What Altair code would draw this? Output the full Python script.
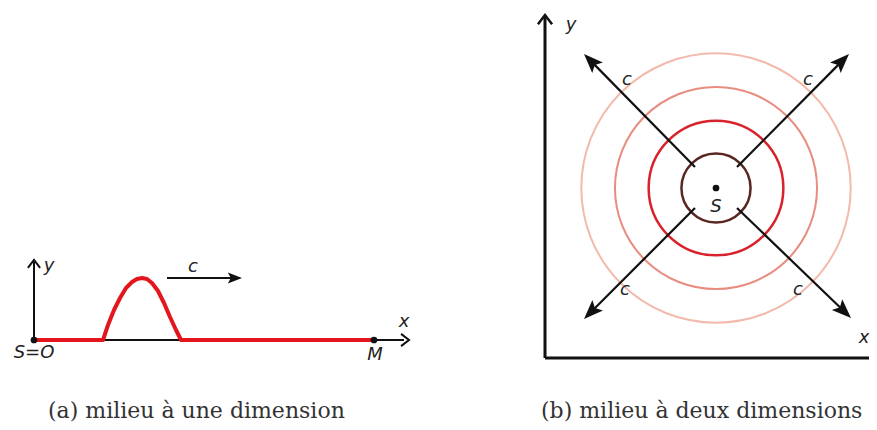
import math
import altair as alt
import pandas as pd

# ---------------- data (reference pixel coordinates) ----------------
# (a) one-dimensional medium
a_axis_x1 = [34, 34]
a_axis_y1 = [340, 340]
a_axis_x2 = [34, 404]
a_axis_y2 = [262, 340]
a_chevron_x = [34, 409]
a_chevron_y = [260, 340]
a_chevron_angle = [0, 90]

pulse_x = [34, 103, 108, 114, 120, 126, 132, 137, 142, 147, 152, 158, 164, 170, 176, 181, 374]
pulse_y = [340, 340, 325, 310, 298, 288, 282, 279, 278, 279, 283, 291, 303, 317, 330, 340, 340]

c_arrow_x1, c_arrow_x2, c_arrow_y = 167, 242, 278

a_dots_x = [34, 374]
a_dots_y = [340, 340]

# (b) two-dimensional medium
b_axis_x1 = [545, 545]
b_axis_y1 = [358, 358]
b_axis_x2 = [545, 885]
b_axis_y2 = [17, 358]
b_chevron_x = [545]
b_chevron_y = [15]

centre_x, centre_y = 716, 188
radii = [152, 114, 76, 39]
ring_colors = ["#f3b9ab", "#e98c80", "#d9222b", "#5a2622"]
ring_widths = [2, 2, 2.5, 2.5]

ray_start_x = [695, 737, 695, 737]
ray_start_y = [167, 167, 208, 208]
ray_tip_x = [584, 849, 584, 851]
ray_tip_y = [54, 54, 319, 318]

labels_text = ["y", "S=O", "M", "x", "c", "y", "x", "c", "c", "c", "c", "S"]
labels_x = [49, 34, 375, 404, 193, 571, 864, 627, 808, 625, 798, 716]
labels_y = [266, 353, 355, 322, 267, 25, 338, 80, 80, 290, 290, 207]

captions = ["(a) milieu à une dimension", "(b) milieu à deux dimensions"]
captions_x = [48, 541]
captions_y = [418, 418]

# ---------------- build tables ----------------
W, H = 861, 414
xs = alt.Scale(domain=[8, 8 + W], range=[0, W])
ys = alt.Scale(domain=[8, 8 + H], reverse=True)
X = lambda f: alt.X(f, type="quantitative", scale=xs, axis=None)
Y = lambda f: alt.Y(f, type="quantitative", scale=ys, axis=None)
X2 = lambda f: alt.X2(f)
Y2 = lambda f: alt.Y2(f)

def seg_chart(df, color, width):
    return alt.Chart(df).mark_rule(color=color, strokeWidth=width, strokeCap="butt").encode(
        x=X("x1"), y=Y("y1"), x2=X2("x2"), y2=Y2("y2"))

a_axes = pd.DataFrame({"x1": a_axis_x1, "y1": a_axis_y1, "x2": a_axis_x2, "y2": a_axis_y2})
b_axes = pd.DataFrame({"x1": b_axis_x1, "y1": b_axis_y1, "x2": b_axis_x2, "y2": b_axis_y2})

pulse = pd.DataFrame({"x": pulse_x, "y": pulse_y, "i": list(range(len(pulse_x)))})

# filled arrow heads (tip position + direction angle)
head_len_b = 10
rays = []
heads_b = []
for sx, sy, tx, ty in zip(ray_start_x, ray_start_y, ray_tip_x, ray_tip_y):
    dx, dy = tx - sx, ty - sy
    L = math.hypot(dx, dy)
    ux, uy = dx / L, dy / L
    rays.append({"x1": sx, "y1": sy, "x2": tx - ux * head_len_b, "y2": ty - uy * head_len_b})
    ang = (math.degrees(math.atan2(dx, -dy)) + 360) % 360
    heads_b.append({"x": tx, "y": ty, "angle": ang})
rays = pd.DataFrame(rays)
heads_b = pd.DataFrame(heads_b)

c_shaft = pd.DataFrame({"x1": [c_arrow_x1], "y1": [c_arrow_y], "x2": [c_arrow_x2 - 8], "y2": [c_arrow_y]})
c_head = pd.DataFrame({"x": [c_arrow_x2], "y": [c_arrow_y], "angle": [90]})

chev_a = pd.DataFrame({"x": a_chevron_x, "y": a_chevron_y, "angle": a_chevron_angle})
chev_b = pd.DataFrame({"x": b_chevron_x, "y": b_chevron_y, "angle": [0]})

rings = pd.DataFrame({"x": [centre_x] * 4, "y": [centre_y] * 4, "r": radii,
                      "col": ring_colors, "w": ring_widths})
rings["size"] = math.pi * rings["r"] ** 2

dots = pd.DataFrame({"x": a_dots_x + [centre_x], "y": a_dots_y + [centre_y]})
labels = pd.DataFrame({"t": labels_text, "x": labels_x, "y": labels_y})
caps = pd.DataFrame({"t": captions, "x": captions_x, "y": captions_y})

HEAD = "M0,0L-0.85,2.2L0,1.75L0.85,2.2Z"
CHEV = "M-1,1.3L0,0L1,1.3"

layers = [
    seg_chart(a_axes, "#111111", 2),
    alt.Chart(chev_a).mark_point(shape=CHEV, filled=False, color="#111111", strokeWidth=2,
                                 size=150, opacity=1).encode(
        x=X("x"), y=Y("y"), angle=alt.Angle("angle:Q", scale=None)),
    alt.Chart(pulse).mark_line(color="#e3151d", strokeWidth=4, strokeJoin="round").encode(
        x=X("x"), y=Y("y"), order="i:Q"),
    seg_chart(c_shaft, "#111111", 2),
    alt.Chart(c_head).mark_point(shape=HEAD, filled=True, color="#111111", size=165, opacity=1).encode(
        x=X("x"), y=Y("y"), angle=alt.Angle("angle:Q", scale=None)),
    # (b)
    alt.Chart(rings).mark_point(shape="circle", filled=False, opacity=1).encode(
        x=X("x"), y=Y("y"), size=alt.Size("size:Q", scale=None),
        stroke=alt.Stroke("col:N", scale=None), strokeWidth=alt.StrokeWidth("w:Q", scale=None)),
    seg_chart(b_axes, "#111111", 3),
    alt.Chart(chev_b).mark_point(shape=CHEV, filled=False, color="#111111", strokeWidth=2.5,
                                 size=200, opacity=1).encode(
        x=X("x"), y=Y("y"), angle=alt.Angle("angle:Q", scale=None)),
    seg_chart(rays, "#111111", 2.2),
    alt.Chart(heads_b).mark_point(shape=HEAD, filled=True, color="#111111", size=310, opacity=1).encode(
        x=X("x"), y=Y("y"), angle=alt.Angle("angle:Q", scale=None)),
    alt.Chart(dots).mark_point(shape="circle", filled=True, color="#111111", size=45, opacity=1).encode(
        x=X("x"), y=Y("y")),
    alt.Chart(labels).mark_text(font="DejaVu Sans", fontSize=18, fontStyle="italic",
                                color="#222222", align="center", baseline="middle").encode(
        x=X("x"), y=Y("y"), text="t:N"),
    alt.Chart(caps).mark_text(font="DejaVu Serif", fontSize=22, color="#333333",
                              align="left", baseline="alphabetic").encode(
        x=X("x"), y=Y("y"), text="t:N"),
]

chart = alt.layer(*layers).properties(
    width=W, height=H, autosize=alt.AutoSizeParams(type="none"), padding=0, background="white"
).configure_view(stroke=None)

chart.save("out.html", embed_options={"renderer": "svg", "actions": False})
